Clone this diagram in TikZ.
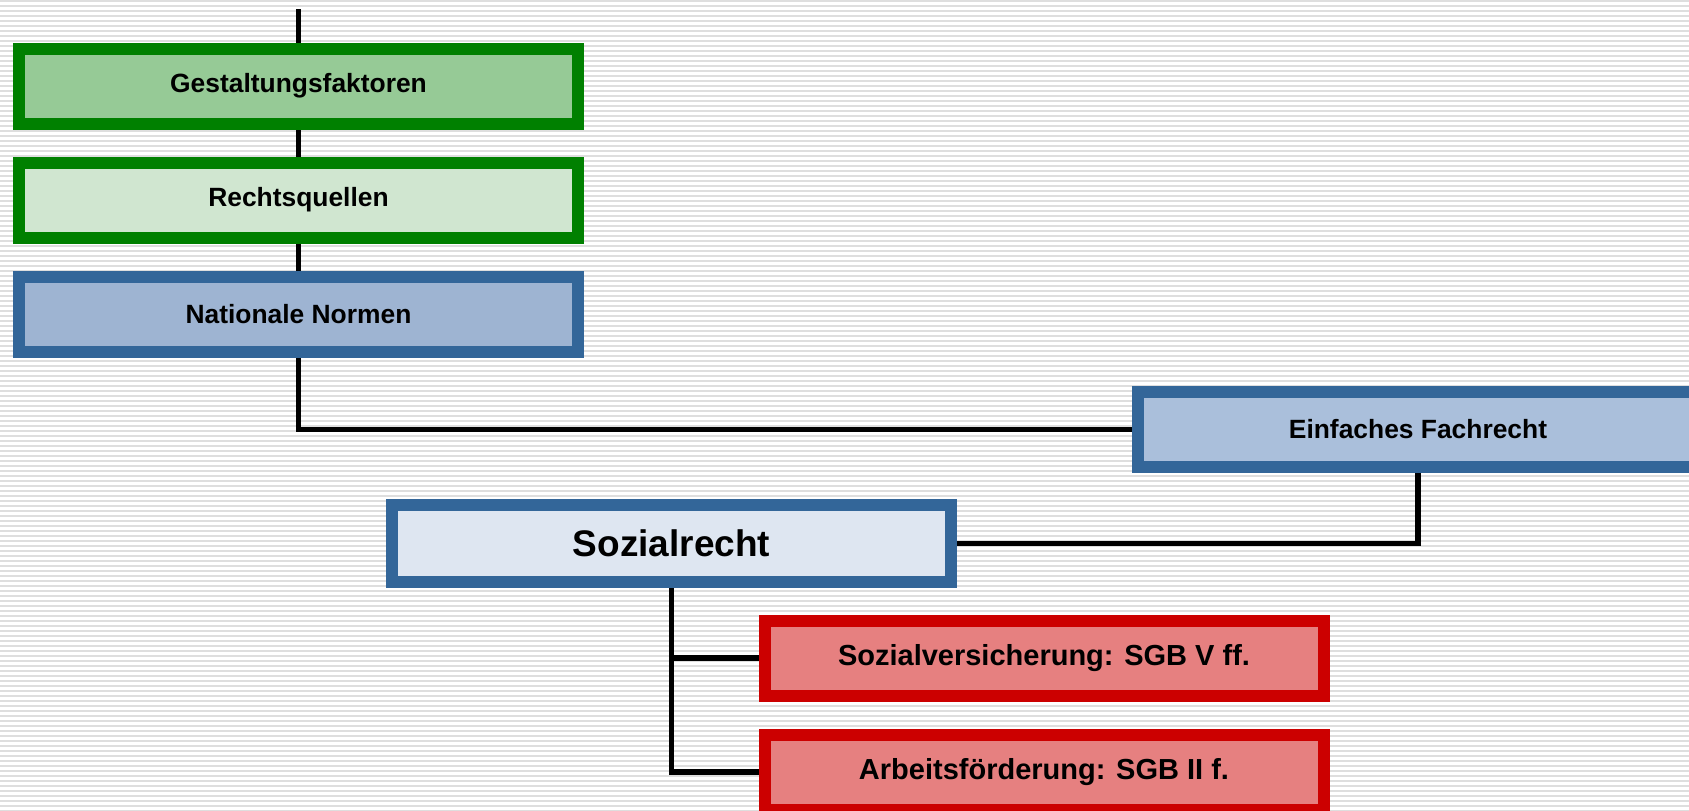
\documentclass[tikz,border=0pt]{standalone}
\usepackage{fontspec}
\setmainfont{Liberation Sans}
\pgfdeclarelayer{bg}
\pgfdeclarelayer{edges}
\pgfsetlayers{bg,edges,main}
\definecolor{gborder}{RGB}{0,128,0}
\definecolor{bborder}{RGB}{51,102,153}
\definecolor{rborder}{RGB}{204,0,0}
\definecolor{gfillA}{RGB}{150,202,150}
\definecolor{gfillB}{RGB}{208,230,208}
\definecolor{bfillA}{RGB}{158,180,210}
\definecolor{bfillB}{RGB}{170,191,219}
\definecolor{bfillC}{RGB}{222,230,241}
\definecolor{rfill}{RGB}{230,128,128}
\definecolor{stripe}{RGB}{222,222,222}
\tikzset{
  box/.style={draw, line width=12pt, inner sep=0pt, minimum width=559pt, minimum height=75pt,
    font=\bfseries\fontsize{26.4}{30}\selectfont, align=center},
  greenbox/.style={box, draw=gborder},
  bluebox/.style={box, draw=bborder},
  redbox/.style={box, draw=rborder, fill=rfill, font=\bfseries\fontsize{29}{33}\selectfont},
  conn/.style={line width=5.5pt, black},
  stripeline/.style={line width=2pt, stripe}
}
\begin{document}
\begin{tikzpicture}[x=1pt,y=-1pt]
\useasboundingbox (0,0) rectangle (1689,811);
\begin{pgfonlayer}{bg}
  \fill[white] (0,0) rectangle (1689,811);
  \foreach \i in {0,...,162} {
    \draw[stripeline] (0,\i*5+1) -- (1689,\i*5+1);
  }
\end{pgfonlayer}

\node[greenbox, fill=gfillA] (gest) at (298.5,86) {Gestaltungsfaktoren};
\node[greenbox, fill=gfillB] (rq) at (298.5,200) {Rechtsquellen};
\node[bluebox, fill=bfillA] (nat) at (298.5,314.5) {Nationale Normen};
\node[bluebox, fill=bfillB, minimum width=560pt] (einf) at (1418,429.5) {Einfaches Fachrecht};
\node[bluebox, fill=bfillC, minimum height=77pt, font=\bfseries\fontsize{37}{42}\selectfont] (soz) at (671.5,543.5) {Sozialrecht};
\node[redbox] (sv) at (1044,658) {Sozialversicherung: SGB V ff.};
\node[redbox] (af) at (1044,772) {Arbeitsförderung: SGB II f.};

\coordinate (top) at (298.5,9);

\begin{pgfonlayer}{edges}
  \draw[conn] (top) -- (gest.north);
  \draw[conn] (gest.south) -- (rq.north);
  \draw[conn] (rq.south) -- (nat.north);
  \draw[conn] (nat.south) |- (einf.west);
  \draw[conn] (einf.south) |- (soz.east);
  \draw[conn] (soz.south) |- (sv.west);
  \draw[conn] (soz.south) |- (af.west);
\end{pgfonlayer}
\end{tikzpicture}
\end{document}
